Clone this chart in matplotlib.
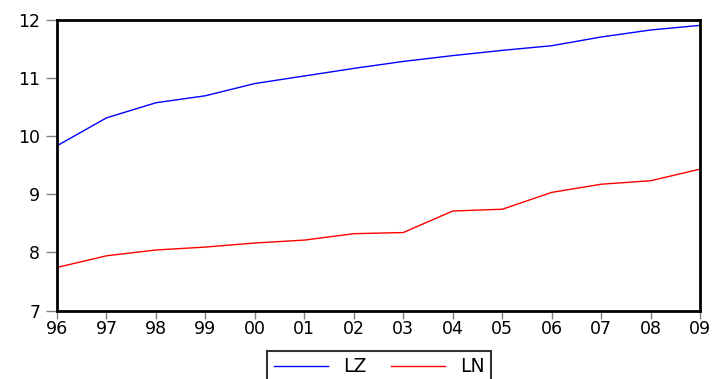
import matplotlib.pyplot as plt
import numpy as np

# years and series
years = ['96', '97', '98', '99', '00', '01', '02', '03', '04', '05', '06', '07', '08', '09']
lz = [9.83, 10.31, 10.57, 10.69, 10.90, 11.03, 11.16, 11.28, 11.38, 11.47, 11.55, 11.70, 11.82, 11.90]
ln = [7.74, 7.94, 8.04, 8.09, 8.16, 8.21, 8.32, 8.34, 8.71, 8.74, 9.03, 9.17, 9.23, 9.43]
yticks = [7, 8, 9, 10, 11, 12]

plt.rcParams['font.family'] = ['DejaVu Sans']

fig = plt.figure(figsize=(7.13, 3.79), dpi=100)
ax = fig.add_axes([0.0799, 0.1807, 0.9021, 0.7678])

x = np.arange(len(years))
ax.plot(x, lz, color='#0000ff', linewidth=1, label='LZ')
ax.plot(x, ln, color='#ff0000', linewidth=1, label='LN')

ax.set_xlim(0, len(years) - 1)
ax.set_ylim(7, 12)
ax.set_xticks(x)
ax.set_xticklabels(years)
ax.set_yticks(yticks)

for s in ax.spines.values():
    s.set_linewidth(2)
    s.set_color('black')

ax.tick_params(axis='y', direction='out', length=8, width=1, color='gray', labelsize=12.5, pad=4)
ax.tick_params(axis='x', direction='out', length=6, width=1, color='gray', labelsize=12.5, pad=1)

fig.legend(loc='lower center', bbox_to_anchor=(0.532, -0.035), ncol=2, fontsize=13.5,
           frameon=True, fancybox=False, edgecolor='black', handlelength=2.9,
           columnspacing=1.3, borderpad=0.35)
leg = fig.legends[0]
leg.get_frame().set_linewidth(1.5)

fig.savefig('out.png', dpi=100)
